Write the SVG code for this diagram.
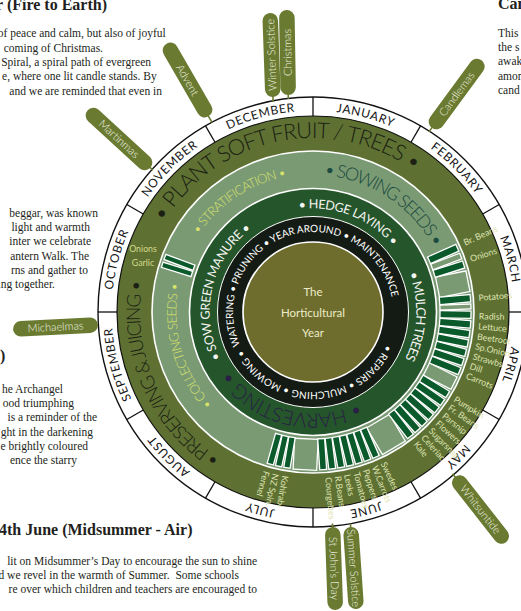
<svg xmlns="http://www.w3.org/2000/svg" width="521" height="611" viewBox="0 0 521 611">
<defs>
<style>
.serif{font-family:"Liberation Serif","DejaVu Serif",serif;font-size:11.5px;fill:#231f20}
.title{font-weight:bold;font-size:16px}
.sans{font-family:Lato,"Open Sans","Liberation Sans",sans-serif}
.month{font-family:Lato,"Open Sans",sans-serif;font-size:12px;fill:#161616;letter-spacing:0.7px}
.pill{fill:#6a7b31}
.stem{stroke:#6a7b31;stroke-width:1.6}
.ptxt{font-family:Lato,"Open Sans",sans-serif;font-size:11px;font-weight:300;fill:#f2f3e4;text-anchor:middle}
.crop{font-family:Lato,"Open Sans",sans-serif;font-size:8.8px;fill:#dfe3b2}
.bar{fill:#0b5a2b;stroke:#fff;stroke-width:1.3}
.cell{fill:#7a9a74;stroke:#fff;stroke-width:1.3}
.div{stroke:#111;stroke-width:1.3}
.big{font-family:Lato,"Open Sans",sans-serif;font-weight:300}
.ring{font-family:Lato,"Open Sans",sans-serif;font-size:10px;fill:#fff}
</style>
<path id="pMonth" d="M313 110.8 A201.2 201.2 0 1 1 313 513.2 A201.2 201.2 0 1 1 313 110.8"/>
<path id="pPlant" d="M163.85 222.38 A174 174 0 0 1 416.50 172.13"/>
<path id="pPres" d="M220.56 458.23 A173 173 0 0 1 143.01 279.88"/>
<path id="pStrat" d="M198.80 234.53 A138 138 0 0 1 287.97 176.29"/>
<path id="pSow" d="M323.99 175.44 A137 137 0 0 1 434.52 248.74"/>
<path id="pColl" d="M212.54 404.70 A136.7 136.7 0 0 1 179.34 283.34"/>
<path id="pManure" d="M220.63 358.46 A103.4 103.4 0 0 1 251.79 228.67"/>
<path id="pHedge" d="M299.12 209.33 A103.6 103.6 0 0 1 393.40 246.66"/>
<path id="pMulch" d="M408.91 273.64 A103.3 103.3 0 0 1 404.63 359.70"/>
<path id="pHarv" d="M358.76 402.60 A101.5 101.5 0 0 1 229.05 369.05"/>
<path id="pBlackA" d="M240.20 345.18 A80 80 0 1 1 391.90 298.80"/>
<path id="pBlackB" d="M385.97 344.79 A80 80 0 0 1 242.10 349.06"/>
</defs>
<rect width="521" height="611" fill="#fff"/>

<g id="text-blocks">
<text class="serif title" x="107" y="10" text-anchor="end">r (Fire to Earth)</text>
<text class="serif" x="165.7" y="37" text-anchor="end">of peace and calm, but also of joyful</text>
<text class="serif" x="103" y="51.5" text-anchor="end">coming of Christmas.</text>
<text class="serif" x="151" y="66" text-anchor="end">Spiral, a spiral path of evergreen</text>
<text class="serif" x="156.7" y="80" text-anchor="end">e, where one lit candle stands. By</text>
<text class="serif" x="162" y="94.5" text-anchor="end">and we are reminded that even in</text>

<text class="serif title" x="498" y="9">Can</text>
<text class="serif" x="498" y="37">This</text>
<text class="serif" x="498" y="51">the s</text>
<text class="serif" x="498" y="65">awak</text>
<text class="serif" x="498" y="79.5">amon</text>
<text class="serif" x="498" y="94">cand</text>

<text class="serif" x="98" y="217" text-anchor="end">beggar, was known</text>
<text class="serif" x="90" y="231" text-anchor="end">light and warmth</text>
<text class="serif" x="91" y="245" text-anchor="end">inter we celebrate</text>
<text class="serif" x="89" y="260" text-anchor="end">antern Walk. The</text>
<text class="serif" x="88" y="274" text-anchor="end">rns and gather to</text>
<text class="serif" x="55" y="288" text-anchor="end">ing together.</text>
<text class="serif title" x="0" y="361">)</text>
<text class="serif" x="63" y="393" text-anchor="end">he Archangel</text>
<text class="serif" x="74" y="407" text-anchor="end">ood triumphing</text>
<text class="serif" x="97" y="421" text-anchor="end">is a reminder of the</text>
<text class="serif" x="93" y="436" text-anchor="end">ght in the darkening</text>
<text class="serif" x="88" y="450" text-anchor="end">e brightly coloured</text>
<text class="serif" x="77" y="464" text-anchor="end">ence the starry</text>

<text class="serif title" x="-1" y="535">4th June (Midsummer - Air)</text>
<text class="serif" x="257" y="565" text-anchor="end">lit on Midsummer’s Day to encourage the sun to shine</text>
<text class="serif" x="239" y="579" text-anchor="end" xml:space="preserve">d we revel in the warmth of Summer.  Some schools</text>
<text class="serif" x="257" y="593" text-anchor="end">re over which children and teachers are encouraged to</text>
</g>

<g id="wheel">
<circle cx="313" cy="312" r="215" fill="#fff" stroke="#111" stroke-width="1.4"/>
<circle cx="313" cy="312" r="196" fill="#5e7132" stroke="#111" stroke-width="1.2"/>
<circle cx="313" cy="312" r="161" fill="#7a9a74" stroke="#fff" stroke-width="1.6"/>
<circle cx="313" cy="312" r="123.5" fill="#24552b" stroke="#fff" stroke-width="1.6"/>
<circle cx="313" cy="312" r="95.5" fill="#141b14" stroke="#fff" stroke-width="1"/>
<circle cx="313" cy="312" r="70" fill="#6e6d2d" stroke="#fff" stroke-width="1.6"/>
</g>

<g id="month-dividers" class="div">
<line x1="509" y1="312" x2="528" y2="312" transform="rotate(-90 313 312)"/>
<line x1="509" y1="312" x2="528" y2="312" transform="rotate(-60 313 312)"/>
<line x1="509" y1="312" x2="528" y2="312" transform="rotate(-30 313 312)"/>
<line x1="509" y1="312" x2="528" y2="312"/>
<line x1="509" y1="312" x2="528" y2="312" transform="rotate(30 313 312)"/>
<line x1="509" y1="312" x2="528" y2="312" transform="rotate(60 313 312)"/>
<line x1="509" y1="312" x2="528" y2="312" transform="rotate(90 313 312)"/>
<line x1="509" y1="312" x2="528" y2="312" transform="rotate(120 313 312)"/>
<line x1="509" y1="312" x2="528" y2="312" transform="rotate(150 313 312)"/>
<line x1="509" y1="312" x2="528" y2="312" transform="rotate(180 313 312)"/>
<line x1="509" y1="312" x2="528" y2="312" transform="rotate(210 313 312)"/>
<line x1="509" y1="312" x2="528" y2="312" transform="rotate(240 313 312)"/>
</g>

<g id="months" class="month" text-anchor="middle">
<text><textPath href="#pMonth" startOffset="4.1667%">JANUARY</textPath></text>
<text><textPath href="#pMonth" startOffset="12.5%">FEBRUARY</textPath></text>
<text><textPath href="#pMonth" startOffset="20.8333%">MARCH</textPath></text>
<text><textPath href="#pMonth" startOffset="29.1667%">APRIL</textPath></text>
<text><textPath href="#pMonth" startOffset="37.5%">MAY</textPath></text>
<text><textPath href="#pMonth" startOffset="45.8333%">JUNE</textPath></text>
<text><textPath href="#pMonth" startOffset="54.1667%">JULY</textPath></text>
<text><textPath href="#pMonth" startOffset="62.5%">AUGUST</textPath></text>
<text><textPath href="#pMonth" startOffset="70.8333%">SEPTEMBER</textPath></text>
<text><textPath href="#pMonth" startOffset="79.1667%">OCTOBER</textPath></text>
<text><textPath href="#pMonth" startOffset="87.5%">NOVEMBER</textPath></text>
<text><textPath href="#pMonth" startOffset="95.8333%">DECEMBER</textPath></text>
</g>

<g id="cells">
<rect class="cell" x="440" y="309" width="31" height="6" transform="rotate(-20.75 313 312)"/>
<rect class="cell" x="440" y="301.5" width="31" height="21" transform="rotate(-11.25 313 312)"/>
<rect class="cell" x="440" y="309.5" width="31" height="5" transform="rotate(-2 313 312)"/>
<rect class="cell" x="440" y="305.1" width="31" height="13.8" transform="rotate(26.75 313 312)"/>
<rect class="cell" x="440" y="298.7" width="31" height="26.6" transform="rotate(59.2 313 312)"/>
<rect class="cell" x="440" y="300.2" width="31" height="23.6" transform="rotate(92.95 313 312)"/>
</g>

<g id="bars">
<rect class="bar" x="440" y="308.3" width="31" height="7.4" transform="rotate(-24 313 312)"/>
<rect class="bar" x="440" y="308.3" width="31" height="7.4" transform="rotate(-17.5 313 312)"/>
<rect class="bar" x="440" y="308.3" width="31" height="7.4" transform="rotate(-5 313 312)"/>
<rect class="bar" x="440" y="308.3" width="31" height="7.4" transform="rotate(1 313 312)"/>
<rect class="bar" x="440" y="308.3" width="31" height="7.4" transform="rotate(4.5 313 312)"/>
<rect class="bar" x="440" y="308.3" width="31" height="7.4" transform="rotate(8 313 312)"/>
<rect class="bar" x="440" y="308.3" width="31" height="7.4" transform="rotate(11.5 313 312)"/>
<rect class="bar" x="440" y="308.3" width="31" height="7.4" transform="rotate(15 313 312)"/>
<rect class="bar" x="440" y="308.3" width="31" height="7.4" transform="rotate(18.5 313 312)"/>
<rect class="bar" x="440" y="308.3" width="31" height="7.4" transform="rotate(22 313 312)"/>
<rect class="bar" x="440" y="308.3" width="31" height="7.4" transform="rotate(31.5 313 312)"/>
<rect class="bar" x="440" y="308.3" width="31" height="7.4" transform="rotate(34.9 313 312)"/>
<rect class="bar" x="440" y="308.3" width="31" height="7.4" transform="rotate(38.3 313 312)"/>
<rect class="bar" x="440" y="308.3" width="31" height="7.4" transform="rotate(41.7 313 312)"/>
<rect class="bar" x="440" y="308.3" width="31" height="7.4" transform="rotate(45.1 313 312)"/>
<rect class="bar" x="440" y="308.3" width="31" height="7.4" transform="rotate(48.5 313 312)"/>
<rect class="bar" x="440" y="308.3" width="31" height="7.4" transform="rotate(51.9 313 312)"/>
<rect class="bar" x="440" y="308.55" width="31" height="6.9" transform="rotate(66.5 313 312)"/>
<rect class="bar" x="440" y="308.55" width="31" height="6.9" transform="rotate(69.8 313 312)"/>
<rect class="bar" x="440" y="308.55" width="31" height="6.9" transform="rotate(73.1 313 312)"/>
<rect class="bar" x="440" y="308.55" width="31" height="6.9" transform="rotate(76.4 313 312)"/>
<rect class="bar" x="440" y="308.55" width="31" height="6.9" transform="rotate(79.7 313 312)"/>
<rect class="bar" x="440" y="308.55" width="31" height="6.9" transform="rotate(83 313 312)"/>
<rect class="bar" x="440" y="308.55" width="31" height="6.9" transform="rotate(86.3 313 312)"/>
<rect class="bar" x="440" y="308.8" width="31" height="6.4" transform="rotate(99.5 313 312)"/>
<rect class="bar" x="440" y="308.8" width="31" height="6.4" transform="rotate(102.6 313 312)"/>
<rect class="bar" x="440" y="308.8" width="31" height="6.4" transform="rotate(105.7 313 312)"/>
<rect class="bar" x="440" y="309.25" width="31" height="5.5" transform="rotate(197.4 313 312)"/>
<rect class="bar" x="440" y="309.25" width="31" height="5.5" transform="rotate(200.4 313 312)"/>
</g>

<g id="band-labels">
<text class="big" font-size="22" fill="#1b1f14"><textPath href="#pPlant" textLength="288" lengthAdjust="spacing">• PLANT SOFT FRUIT / TREES •</textPath></text>
<text class="big" font-size="19" fill="#1b1f14"><textPath href="#pPres" textLength="205" lengthAdjust="spacing">• PRESERVING &amp; JUICING •</textPath></text>
<text class="big" font-size="13" fill="#d8e26a"><textPath href="#pStrat" textLength="108" lengthAdjust="spacing">• STRATIFICATION •</textPath></text>
<text class="big" font-size="18" fill="#1b4a3f"><textPath href="#pSow" textLength="137" lengthAdjust="spacing">• SOWING SEEDS •</textPath></text>
<text class="big" font-size="13" fill="#d8e26a"><textPath href="#pColl" textLength="130" lengthAdjust="spacing">• COLLECTING SEEDS •</textPath></text>
<text class="sans" font-size="12.5" fill="#f4f4f0"><textPath href="#pManure" textLength="144" lengthAdjust="spacing">• SOW GREEN MANURE •</textPath></text>
<text class="sans" font-size="12.5" fill="#f4f4f0"><textPath href="#pHedge" textLength="105" lengthAdjust="spacing">• HEDGE LAYING •</textPath></text>
<text class="sans" font-size="13" fill="#f4f4f0"><textPath href="#pMulch" textLength="88" lengthAdjust="spacing">• MULCH TREES</textPath></text>
<text class="big" font-size="20" fill="#2a2045"><textPath href="#pHarv" textLength="145" lengthAdjust="spacing">• HARVESTING •</textPath></text>
<text class="ring"><textPath href="#pBlackA" textLength="270" lengthAdjust="spacing">WATERING • PRUNING • YEAR AROUND • MAINTENANCE</textPath></text>
<text class="ring"><textPath href="#pBlackB" textLength="178" lengthAdjust="spacing">• REPAIRS • MULCHING • MOWING •</textPath></text>
</g>

<g id="centre" class="sans" font-size="11.5" fill="#ecebc8" text-anchor="middle">
<text x="313" y="296">The</text>
<text x="313" y="317">Horticultural</text>
<text x="313" y="337">Year</text>
</g>

<g id="crops" class="crop">
<text x="479" y="312" dy="0.33em" transform="rotate(-24.5 313 312)">Br. Beans</text>
<text x="479" y="312" dy="0.33em" transform="rotate(-18.5 313 312)">Onions</text>
<text x="479" y="312" dy="0.33em" transform="rotate(-4.8 313 312)">Potatoes</text>
<text x="479" y="312" dy="0.33em" transform="rotate(1.5 313 312)">Radish</text>
<text x="479" y="312" dy="0.33em" transform="rotate(5 313 312)">Lettuce</text>
<text x="479" y="312" dy="0.33em" transform="rotate(8.5 313 312)">Beetroot</text>
<text x="479" y="312" dy="0.33em" transform="rotate(12 313 312)">Sp.Onion</text>
<text x="479" y="312" dy="0.33em" transform="rotate(15.5 313 312)">Strawbs</text>
<text x="479" y="312" dy="0.33em" transform="rotate(19 313 312)">Dill</text>
<text x="479" y="312" dy="0.33em" transform="rotate(22.5 313 312)">Carrots</text>
<text x="479" y="312" dy="0.33em" transform="rotate(31.5 313 312)">Pumpkin</text>
<text x="479" y="312" dy="0.33em" transform="rotate(34.9 313 312)">Fr. Beans</text>
<text x="479" y="312" dy="0.33em" transform="rotate(38.3 313 312)">Parsnip</text>
<text x="479" y="312" dy="0.33em" transform="rotate(41.7 313 312)">Flowers</text>
<text x="479" y="312" dy="0.33em" transform="rotate(45.1 313 312)">Sugarsnap</text>
<text x="479" y="312" dy="0.33em" transform="rotate(48.5 313 312)">Celeriac</text>
<text x="479" y="312" dy="0.33em" transform="rotate(51.9 313 312)">Kale</text>
<text x="479" y="312" dy="0.33em" transform="rotate(65 313 312)">Swedes</text>
<text x="479" y="312" dy="0.33em" transform="rotate(68.3 313 312)">W.Carrots</text>
<text x="479" y="312" dy="0.33em" transform="rotate(71.6 313 312)">Peppers</text>
<text x="479" y="312" dy="0.33em" transform="rotate(74.9 313 312)">Tomatoes</text>
<text x="479" y="312" dy="0.33em" transform="rotate(78.2 313 312)">Leeks</text>
<text x="479" y="312" dy="0.33em" transform="rotate(81.5 313 312)">R.Beans</text>
<text x="479" y="312" dy="0.33em" transform="rotate(84.8 313 312)">Courgettes</text>
<text x="479" y="312" dy="0.33em" transform="rotate(99.7 313 312)">Kohlrabi</text>
<text x="479" y="312" dy="0.33em" transform="rotate(103 313 312)">NZ Spin.</text>
<text x="479" y="312" dy="0.33em" transform="rotate(106.3 313 312)">Fennel</text>
<text x="143" y="252" text-anchor="middle" fill="#d4d98a">Onions</text>
<text x="143" y="266" text-anchor="middle" fill="#d4d98a">Garlic</text>
</g>

<g id="connectors">
<line class="stem" x1="-38" y1="0" x2="-49" y2="0" transform="translate(187.5 80) rotate(-120)"/>
<line class="stem" x1="-38" y1="0" x2="-46" y2="0" transform="translate(119 139) rotate(-137.5)"/>
<line class="stem" x1="-38" y1="0" x2="-47" y2="0" transform="translate(271.5 55) rotate(-92)"/>
<line class="stem" x1="-38" y1="0" x2="-46.5" y2="0" transform="translate(287.5 52.5) rotate(-91)"/>
<line class="stem" x1="-38" y1="0" x2="-47" y2="0" transform="translate(456.7 94) rotate(-53.7)"/>
<line class="stem" x1="-38" y1="0" x2="-45.5" y2="0" transform="translate(480.5 509.5) rotate(52)"/>
<line class="stem" x1="-38" y1="0" x2="-45" y2="0" transform="translate(334 568.5) rotate(88)"/>
<line class="stem" x1="-38" y1="0" x2="-44.5" y2="0" transform="translate(353.5 568) rotate(86)"/>
</g>

<g id="pill-advent" transform="translate(187.5 80) rotate(-120)">
<rect class="pill" x="-42" y="-7.75" width="84" height="15.5" rx="7.75"/>
<text class="ptxt" y="3.8" transform="rotate(180)">Advent</text>
</g>
<g id="pill-martinmas" transform="translate(119 139) rotate(-137.5)">
<rect class="pill" x="-42.5" y="-7.75" width="85" height="15.5" rx="7.75"/>
<text class="ptxt" y="3.8" transform="rotate(180)">Martinmas</text>
</g>
<g id="pill-winter-solstice" transform="translate(271.5 55) rotate(-92)">
<rect class="pill" x="-42" y="-7.75" width="84" height="15.5" rx="7.75"/>
<text class="ptxt" y="3.8">Winter Solstice</text>
</g>
<g id="pill-christmas" transform="translate(287.5 52.5) rotate(-91)">
<rect class="pill" x="-42.5" y="-7.75" width="85" height="15.5" rx="7.75"/>
<text class="ptxt" y="3.8">Christmas</text>
</g>
<g id="pill-candlemas" transform="translate(456.7 94) rotate(-53.7)">
<rect class="pill" x="-42" y="-7.75" width="84" height="15.5" rx="7.75"/>
<text class="ptxt" y="3.8">Candlemas</text>
</g>
<g id="pill-michaelmas" transform="translate(55.5 327) rotate(177)">
<rect class="pill" x="-42.5" y="-7.75" width="85" height="15.5" rx="7.75"/>
<text class="ptxt" y="3.8" transform="rotate(180)">Michaelmas</text>
</g>
<g id="pill-whitsuntide" transform="translate(480.5 509.5) rotate(52)">
<rect class="pill" x="-41.5" y="-7.75" width="83" height="15.5" rx="7.75"/>
<text class="ptxt" y="3.8">Whitsuntide</text>
</g>
<g id="pill-st-johns-day" transform="translate(334 568.5) rotate(88)">
<rect class="pill" x="-41.5" y="-7.75" width="83" height="15.5" rx="7.75"/>
<text class="ptxt" y="3.8">St John’s Day</text>
</g>
<g id="pill-summer-solstice" transform="translate(353.5 568) rotate(86)">
<rect class="pill" x="-41" y="-7.75" width="82" height="15.5" rx="7.75"/>
<text class="ptxt" y="3.8">Summer Solstice</text>
</g>
</svg>
